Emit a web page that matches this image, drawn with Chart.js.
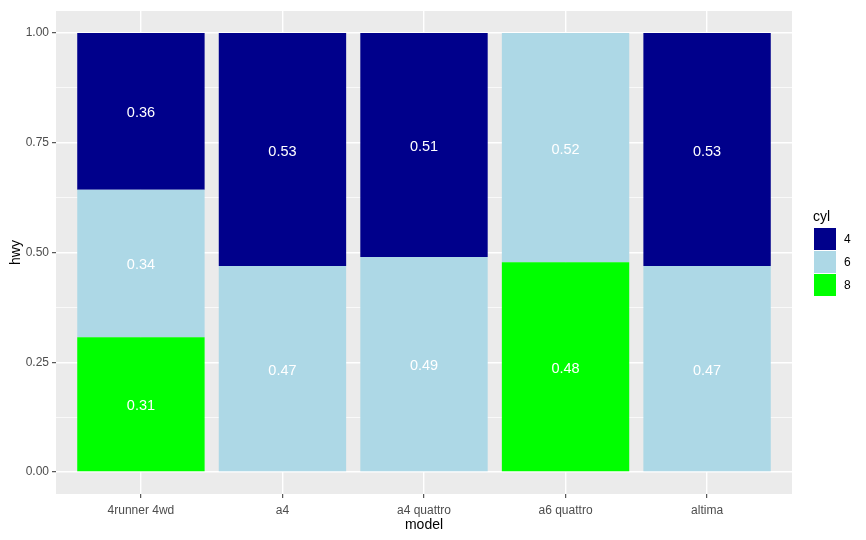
<!DOCTYPE html>
<html>
<head>
<meta charset="utf-8">
<script src="https://cdn.jsdelivr.net/npm/chart.js@4"></script>
<style>
  html, body { margin: 0; padding: 0; background: #fff; }
  #wrap { width: 866px; height: 540px; }
</style>
</head>
<body>
<div id="wrap"><canvas id="chart"></canvas></div>
<script>
// categories and shares of hwy per cyl
const models = ['4runner 4wd', 'a4', 'a4 quattro', 'a6 quattro', 'altima'];
const cylLevels = ['4', '6', '8'];
const cyl4 = [0.357, 0.531, 0.510, 0, 0.531];
const cyl6 = [0.336, 0.469, 0.490, 0.522, 0.469];
const cyl8 = [0.307, 0, 0, 0.478, 0];
const yTicks = [0, 0.125, 0.25, 0.375, 0.5, 0.625, 0.75, 0.875, 1];
const yMajor = [0, 0.25, 0.5, 0.75, 1];
const cylColors = { '4': '#00008B', '6': '#ADD8E6', '8': '#00FF00' };

const font = '"Liberation Sans", Arial, sans-serif';

function toPoints(values) {
  return values.map((v, i) => ({ x: i + 1, y: v }));
}

// ggplot style grey panel
const panelBg = {
  id: 'panelBg',
  beforeDraw(chart) {
    const a = chart.chartArea;
    const ctx = chart.ctx;
    ctx.save();
    ctx.fillStyle = '#EBEBEB';
    ctx.fillRect(a.left, a.top, a.right - a.left, a.bottom - a.top);
    ctx.restore();
  }
};

// value text in the middle of each stacked piece
const barText = {
  id: 'barText',
  afterDatasetsDraw(chart) {
    const ctx = chart.ctx;
    ctx.save();
    ctx.fillStyle = '#FFFFFF';
    ctx.font = '14.5px ' + font;
    ctx.textAlign = 'center';
    ctx.textBaseline = 'middle';
    chart.data.datasets.forEach((ds, di) => {
      const meta = chart.getDatasetMeta(di);
      meta.data.forEach((bar, i) => {
        const v = ds.data[i].y;
        if (!v) return;
        ctx.fillText(v.toFixed(2), bar.x, (bar.y + bar.base) / 2 + 2);
      });
    });
    ctx.restore();
  }
};

// legend drawn like ggplot's: title, then stacked keys
const cylLegend = {
  id: 'cylLegend',
  afterDraw(chart) {
    const ctx = chart.ctx;
    const x = 814, top = 228, key = 22, step = 23;
    ctx.save();
    ctx.fillStyle = '#000';
    ctx.font = '14px ' + font;
    ctx.textAlign = 'left';
    ctx.textBaseline = 'alphabetic';
    ctx.fillText('cyl', x - 1, 221);
    ctx.font = '12px ' + font;
    ctx.textBaseline = 'middle';
    cylLevels.forEach((lvl, i) => {
      const y = top + i * step;
      ctx.fillStyle = cylColors[lvl];
      ctx.fillRect(x, y, key, key);
      ctx.fillStyle = '#000';
      ctx.fillText(lvl, x + 30, y + key / 2 + 1);
    });
    ctx.restore();
  }
};

const ctx = document.getElementById('chart').getContext('2d');
new Chart(ctx, {
  type: 'bar',
  data: {
    datasets: [
      { label: '8', data: toPoints(cyl8), backgroundColor: cylColors['8'] },
      { label: '6', data: toPoints(cyl6), backgroundColor: cylColors['6'] },
      { label: '4', data: toPoints(cyl4), backgroundColor: cylColors['4'] }
    ]
  },
  options: {
    responsive: true,
    maintainAspectRatio: false,
    animation: false,
    categoryPercentage: 1,
    barPercentage: 0.9,
    borderSkipped: false,
    layout: { padding: { top: 11, right: 74, left: 0, bottom: 0 } },
    plugins: {
      legend: { display: false },
      tooltip: { enabled: false }
    },
    scales: {
      x: {
        type: 'linear',
        stacked: true,
        offset: false,
        min: 0.4,
        max: 5.6,
        afterBuildTicks(scale) {
          scale.ticks = models.map((m, i) => ({ value: i + 1 }));
        },
        afterFit(scale) { scale.height = 46; },
        ticks: {
          callback: (v) => models[v - 1] || '',
          color: '#4D4D4D',
          font: { family: font, size: 12 },
          padding: 5,
          maxRotation: 0,
          autoSkip: false
        },
        grid: {
          offset: false,
          color: '#FFFFFF',
          lineWidth: 1.4,
          tickLength: 4,
          tickColor: '#333333',
          tickWidth: 1
        },
        border: { display: false },
        title: {
          display: true,
          text: 'model',
          color: '#000',
          font: { family: font, size: 14 },
          padding: { top: 0, bottom: 6 }
        }
      },
      y: {
        stacked: true,
        min: -0.05,
        max: 1.05,
        afterBuildTicks(scale) {
          scale.ticks = yTicks.map(v => ({ value: v }));
        },
        afterFit(scale) { scale.width = 56; },
        ticks: {
          callback: (v) => yMajor.includes(v) ? v.toFixed(2) : '',
          color: '#4D4D4D',
          font: { family: font, size: 12 },
          padding: 3,
          autoSkip: false
        },
        grid: {
          color: '#FFFFFF',
          lineWidth: (c) => yMajor.includes(c.tick.value) ? 1.4 : 0.7,
          tickLength: 4,
          tickColor: (c) => yMajor.includes(c.tick.value) ? '#333333' : 'rgba(0,0,0,0)',
          tickWidth: 1
        },
        border: { display: false },
        title: {
          display: true,
          text: 'hwy',
          color: '#000',
          font: { family: font, size: 14 },
          padding: { top: 8, bottom: 0 }
        }
      }
    }
  },
  plugins: [panelBg, barText, cylLegend]
});
</script>
</body>
</html>
